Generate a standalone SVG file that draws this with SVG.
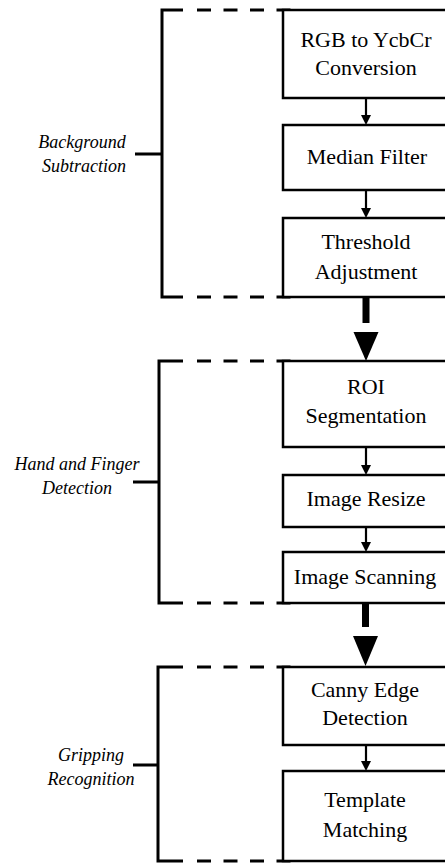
<svg xmlns="http://www.w3.org/2000/svg" width="445" height="863" viewBox="0 0 445 863">
<style>
.box{fill:#fff;stroke:#000;stroke-width:2.5}
.br{fill:none;stroke:#000;stroke-width:3}
.dash{fill:none;stroke:#000;stroke-width:3;stroke-dasharray:14 12.5}
.t{font-family:"Liberation Serif","Times New Roman",serif;font-size:22px;text-anchor:middle;fill:#000}
.l{font-family:"Liberation Serif","Times New Roman",serif;font-size:18px;font-style:italic;text-anchor:middle;fill:#000}
.ln{stroke:#000;stroke-width:2.2;fill:none}
</style>
<rect width="445" height="863" fill="#fff"/>
<g id="brackets">
  <g id="bracket-background">
    <path class="br" d="M183,10 H162 V297 H183 M135,154 H162"/>
    <path class="dash" d="M197,10 H293 M197,297 H293"/>
    <text class="l" x="82" y="148">Background</text>
    <text class="l" x="84" y="172">Subtraction</text>
  </g>
  <g id="bracket-hand">
    <path class="br" d="M183,361 H159 V603 H183 M133,482 H159"/>
    <path class="dash" d="M197,361 H293 M197,603 H293"/>
    <text class="l" x="77" y="470">Hand and Finger</text>
    <text class="l" x="77" y="494">Detection</text>
  </g>
  <g id="bracket-gripping">
    <path class="br" d="M183,667 H158 V861 H183 M133,765 H158"/>
    <path class="dash" d="M197,667 H293 M197,861 H293"/>
    <text class="l" x="91" y="761">Gripping</text>
    <text class="l" x="91" y="785">Recognition</text>
  </g>
</g>
<g id="rgb">
  <rect class="box" x="283" y="10" width="175" height="88"/>
  <text class="t" x="366" y="47">RGB to YcbCr</text>
  <text class="t" x="366" y="75">Conversion</text>
</g>
<g id="median">
  <rect class="box" x="283" y="125" width="175" height="65"/>
  <text class="t" x="367" y="164">Median Filter</text>
</g>
<g id="threshold">
  <rect class="box" x="283" y="218" width="175" height="79"/>
  <text class="t" x="366" y="249">Threshold</text>
  <text class="t" x="366" y="279">Adjustment</text>
</g>
<g id="roi">
  <rect class="box" x="283" y="361" width="175" height="86"/>
  <text class="t" x="366" y="394">ROI</text>
  <text class="t" x="366" y="423">Segmentation</text>
</g>
<g id="resize">
  <rect class="box" x="283" y="475" width="175" height="52"/>
  <text class="t" x="366" y="506">Image Resize</text>
</g>
<g id="scanning">
  <rect class="box" x="283" y="552" width="175" height="51"/>
  <text class="t" x="365" y="584">Image Scanning</text>
</g>
<g id="canny">
  <rect class="box" x="283" y="667" width="175" height="78"/>
  <text class="t" x="365" y="697">Canny Edge</text>
  <text class="t" x="365" y="725">Detection</text>
</g>
<g id="template">
  <rect class="box" x="283" y="771" width="175" height="90"/>
  <text class="t" x="365" y="807">Template</text>
  <text class="t" x="365" y="837">Matching</text>
</g>
<g id="connectors">
  <path class="ln" d="M366,98 V115"/><path d="M361,115 H371 L366,125 Z"/>
  <path class="ln" d="M366,190 V208"/><path d="M361,208 H371 L366,218 Z"/>
  <path class="ln" d="M366,447 V465"/><path d="M361,465 H371 L366,475 Z"/>
  <path class="ln" d="M366,527 V542"/><path d="M361,542 H371 L366,552 Z"/>
  <path class="ln" d="M366,745 V761"/><path d="M361,761 H371 L366,771 Z"/>
  <rect x="362.5" y="298" width="7" height="25"/>
  <path d="M353.5,332 H378.5 L366,361 Z"/>
  <rect x="362" y="603" width="7" height="24"/>
  <path d="M353,636 H378 L365.5,666 Z"/>
</g>
</svg>
